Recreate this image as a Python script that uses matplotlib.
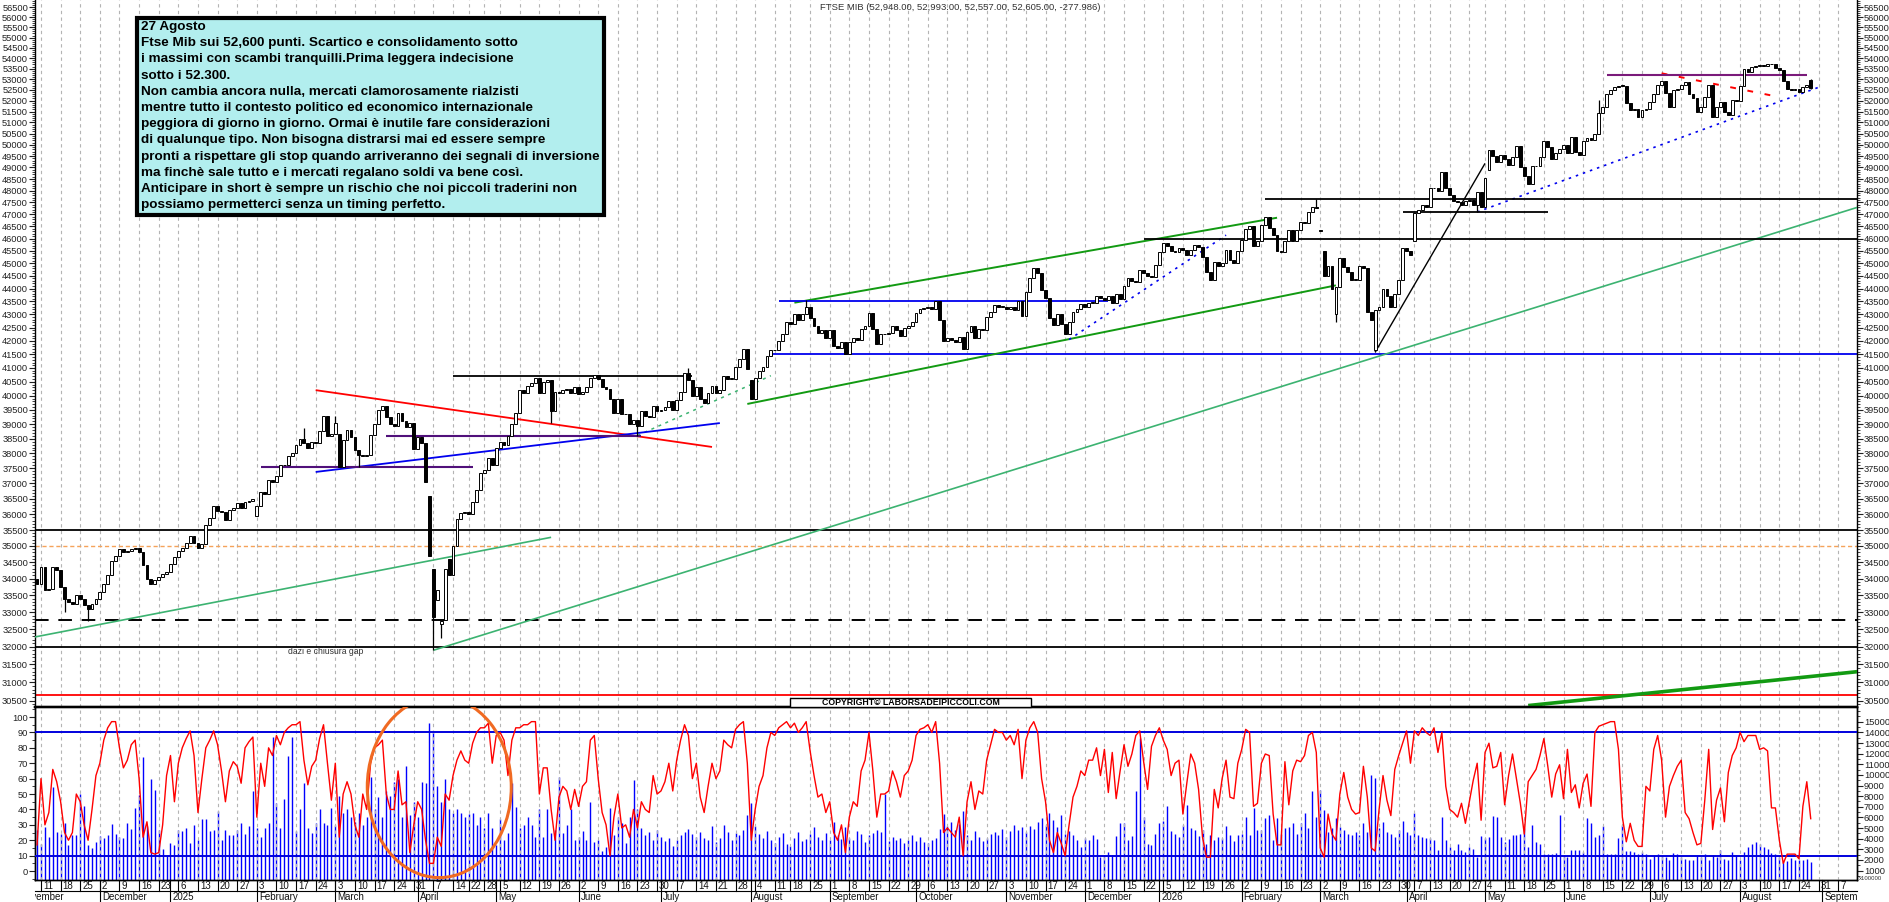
import numpy as np
import pandas as pd
import matplotlib
matplotlib.use("Agg")
import matplotlib.pyplot as plt
from matplotlib.patches import Rectangle, Ellipse
from matplotlib.lines import Line2D
from matplotlib.ticker import FixedLocator, NullFormatter, FuncFormatter
from matplotlib.transforms import Bbox

plt.rcParams['font.family'] = ['Liberation Sans', 'DejaVu Sans']

# ------------------------------------------------------------------ data
holidays = ["2024-12-24", "2024-12-25", "2024-12-26", "2024-12-31", "2025-01-01",
            "2025-04-18", "2025-04-21", "2025-05-01", "2025-08-15", "2025-12-24",
            "2025-12-25", "2025-12-26", "2025-12-31", "2026-01-01", "2026-04-03",
            "2026-04-06", "2026-05-01"]
first_day = "2024-11-08"

# daily closes, one line per week (Nov 8 2024 -> Aug 27 2026)
close_prices = [
    33850,
    34350, 33650, 33700, 34350, 34250,
    33750, 33400, 33300, 33250, 33500,
    33400, 33200, 33100, 33250, 33400,
    33600, 33850, 34100, 34550, 34700,
    34900, 34800, 34850, 34900, 34950,
    34800, 34400, 34000, 33850, 33950,
    34050, 34150,
    34200, 34450, 34650,
    34850, 34950, 35100, 35320, 35100,
    34940, 35050, 35650, 35880, 36260,
    36100, 36070, 35820, 36150, 36200,
    36350, 36200, 36400, 36440, 36490,
    36250, 36720, 36650, 37120, 37050,
    37250, 37620, 37600, 37900, 38000,
    38300, 38500, 38350, 38200, 38400,
    38350, 38750, 39280, 38600, 38650,
    39050, 37550, 38450, 38800, 38550,
    38100, 37950, 37900, 37950, 38630,
    39000, 39500, 39650, 39250, 39000,
    38950, 39400, 39100, 38900, 39050,
    38150, 38550, 38350, 37050, 34680,
    32850, 33650, 32750, 34300, 34100,
    35000, 35850, 36050, 36070,
    36000, 36400, 36800, 37350,
    37450, 37850, 37600, 38200,
    38400, 38300, 38600, 39000, 39400,
    40200, 40100, 40350, 40450, 40650,
    40100, 40500, 40550, 39450, 40150,
    40100, 40200, 40250, 40100, 40300,
    40050, 40150, 40300, 40650, 40750,
    40600, 40300, 40250, 39900, 39400,
    39900, 39350, 39350, 39000, 39150,
    38950, 39450, 39300, 39250, 39650,
    39450, 39500, 39600, 39800, 39500,
    39850, 40150, 40800, 40550, 40000,
    40300, 39900, 39750, 40100, 40350,
    40100, 40200, 40700, 40600, 40600,
    41050, 41330, 41700, 40950, 39900,
    40620, 40900, 41050, 41450, 41660,
    41650, 42000, 42250, 42700,
    42650, 43000, 42800, 43000, 43300,
    42850, 42550, 42300, 42400, 42100,
    42400, 41800, 41750, 41950, 41500,
    41950, 42100, 42050, 42450, 42550,
    43050, 42450, 41900, 42250, 42250,
    42300, 42550, 42400, 42200, 42500,
    42550, 42700, 43050, 43200, 43250,
    43300, 43200, 43500, 42800, 42000,
    42100, 42050, 41950, 42150, 41700,
    42350, 42550, 42100, 42450, 42400,
    42900, 43100, 43350, 43300, 43300,
    43200, 43300, 43150, 43500, 42950,
    43850, 44400, 44800, 44600, 43950,
    43650, 42850, 42600, 43000, 42650,
    42250, 42700, 43100, 43200, 43400,
    43300, 43450, 43450, 43700, 43650,
    43550, 43700, 43450, 43800, 43600,
    44100, 44400, 44300, 44250, 44750,
    44600, 44500,
    44450, 44950, 45450,
    45800, 45700, 45500, 45450, 45600,
    45550, 45350, 45550, 45750, 45650,
    45250, 44650, 44350, 45050, 44900,
    45000, 45550, 45150, 45000, 45500,
    45950, 46400, 46520, 45700, 45900,
    46550, 46900, 46450, 46150, 45500,
    45450, 45900, 46350, 45900, 46350,
    46700, 46650, 47100, 47300, 47250,
    46300, 44500, 44900, 44000, 44050,
    45200, 44850, 44650, 44350, 44350,
    44900, 44800, 43100, 42800, 43150,
    43300, 44000, 43700, 43300, 43800,
    44350, 45600, 45500, 45350,
    47050, 47200, 47400, 47300,
    48100, 48100, 48000, 48800, 48100,
    47800, 47550, 47500, 47400, 47550,
    47600, 47400, 47950, 47300,
    48550, 49750, 49500, 49250, 49550,
    49350, 49100, 49450, 49950, 49000,
    48650, 48300, 49050, 49050, 49450,
    50150, 49900, 49350, 49650, 49800,
    50000, 49650, 50350, 49700, 49550,
    50150, 50300, 50200, 50500, 51450,
    51700, 52300, 52500, 52650, 52700,
    52680, 51900, 51550, 51600, 51250,
    51550, 51600, 51950, 52300, 52750,
    52900, 52350, 51700, 52500, 52550,
    52750, 52850, 52300, 52100, 51500,
    51700, 52150, 52750, 51250, 51700,
    51950, 51500, 51350, 52050, 52000,
    52700, 53500, 53350, 53600, 53650,
    53650, 53620, 53700, 53700, 53550,
    53450, 52900, 52550, 52500, 52550,
    52400, 52650, 52750, 52605,
]

# opens that differ from the previous close (gaps)
open_gaps = {
    "2024-11-08": 34000, "2025-02-03": 35930, "2025-03-04": 38650, "2025-04-04": 36600,
    "2025-04-07": 34300, "2025-04-08": 33350, "2025-04-09": 32650, "2025-04-10": 32770,
    "2025-04-11": 34600, "2025-08-01": 40550, "2026-03-02": 46350, "2026-03-03": 45500,
    "2026-03-06": 43000, "2026-03-20": 41650, "2026-04-07": 45900, "2026-05-05": 48900,
    "2026-08-27": 52948,
}
wick_lows = {
    "2024-11-19": 33000, "2024-11-27": 32750, "2025-03-04": 37550, "2025-03-11": 37550,
    "2025-04-07": 31900, "2025-04-09": 32250, "2025-05-22": 39050, "2025-06-23": 38600,
    "2026-03-06": 42700, "2026-03-20": 41600, "2026-04-29": 47100, "2026-08-27": 52557,
}
wick_highs = {
    "2025-02-19": 38880, "2025-03-03": 39300, "2025-07-10": 41000, "2025-08-22": 43560,
    "2026-02-27": 47650, "2026-06-12": 52050, "2026-08-27": 52993,
}

# oscillator (left scale 0-100), one line per week
oscillator = [
    17,
    60, 30, 38, 66, 58,
    45, 25, 20, 25, 50,
    45, 30, 20, 40, 62,
    70, 85, 93, 97, 97,
    80, 67, 72, 82, 85,
    60, 22, 32, 12, 11,
    12, 30,
    62, 75, 45,
    70, 80, 86, 91, 75,
    38, 60, 80, 85, 91,
    82, 65, 45, 65, 71,
    68, 57, 80, 84, 87,
    35, 70, 55, 80, 75,
    88, 82, 90, 93, 95,
    95, 97, 72, 56, 68,
    72, 86, 95, 70, 46,
    70, 22, 50, 58, 50,
    30, 22, 50, 40, 70,
    80, 82, 85, 50, 40,
    40, 65, 43, 45, 12,
    30, 45, 40, 20, 5,
    5, 22, 16, 50, 46,
    62, 72, 78, 72,
    70, 83, 90, 93,
    93, 96, 70, 88,
    90, 85, 62, 85, 93,
    93, 95, 95, 97, 97,
    50, 67, 67, 40, 20,
    48, 55, 52, 40, 53,
    42, 55, 58, 85, 88,
    60, 38, 30, 10, 35,
    50, 28, 30, 22, 40,
    28, 45, 40, 38, 62,
    50, 52, 58, 70, 52,
    72, 85, 95, 88, 60,
    70, 48, 38, 55, 70,
    60, 65, 85, 82, 80,
    92, 95, 97, 70, 20,
    40, 55, 62, 80, 90,
    88, 93, 95, 97,
    93, 96, 90, 93, 97,
    78, 62, 48, 50, 38,
    45, 25, 20, 30, 12,
    35, 45, 42, 65, 72,
    90, 65, 35, 50, 50,
    52, 65, 58, 48, 62,
    65, 72, 88, 92, 93,
    95, 90, 97, 70, 25,
    28, 25, 22, 35, 10,
    45, 58, 40, 52, 50,
    72, 82, 92, 90, 90,
    85, 88, 82, 92, 60,
    85, 93, 97, 90, 60,
    45, 20, 12, 25, 18,
    10, 30, 48, 55, 65,
    62, 72, 72, 80, 62,
    79, 51, 77, 47, 65,
    82, 68, 76, 88, 91,
    71, 53,
    81, 88, 93,
    85, 79, 62, 70, 72,
    37, 57, 76, 70, 53,
    22, 9, 9, 53, 41,
    60, 72, 48, 47, 70,
    79, 92, 90, 42, 44,
    70, 76, 75, 37, 17,
    17, 71, 43, 65, 72,
    71, 75, 88, 90, 77,
    15, 9, 37, 24, 20,
    50, 64, 48, 40, 37,
    38, 68, 48, 15, 13,
    40, 62, 46, 36, 66,
    75, 83, 91, 70,
    91, 88, 93, 90,
    88, 93, 77, 90, 55,
    40, 38, 35, 44, 31,
    45, 59, 70, 33,
    77, 83, 67, 68, 77,
    43, 62, 76, 60, 44,
    24, 58, 62, 66, 75,
    86, 68, 48, 63, 69,
    47, 79, 51, 56, 41,
    57, 63, 42, 90, 94,
    95, 96, 97, 97, 79,
    35, 19, 31, 20, 16,
    16, 55, 52, 79, 88,
    72, 35, 55, 62, 68,
    72, 38, 34, 25, 17,
    18, 46, 79, 27, 46,
    54, 32, 64, 75, 80,
    90, 84, 88, 88, 88,
    79, 80, 78, 41, 41,
    20, 5, 11, 11, 11,
    8, 42, 58, 34,
]

# volume (right scale, x100000), one line per week
volume = [
    4800,
    3500, 5100, 4150, 8900, 4600,
    4450, 5450, 3400, 4350, 4300,
    8200, 7050, 3400, 3100, 3700,
    4230, 4100, 4300, 5390, 4430,
    4150, 4100, 5450, 4950, 6870,
    8130, 11700, 5150, 9650, 8600,
    4860, 3000,
    2400, 3550, 3400,
    4860, 4720, 5000, 3560, 5300,
    3850, 5880, 5880, 4720, 4860,
    6600, 3850, 4860, 4300, 4300,
    4860, 5450, 4430, 5150, 8490,
    5000, 4150, 5000, 5450, 13560,
    7330, 5000, 7750, 11800, 13560,
    4700, 6750, 9200, 5000, 4570,
    5450, 6750, 5450, 5300, 6900,
    5300, 8050, 6460, 6750, 6000,
    5600, 6460, 5300, 6000, 9800,
    6750, 7910, 6025, 8490, 8050,
    9360, 9650, 6000, 10800, 6200,
    7470, 6025, 9360, 9200, 14870,
    14000, 8930, 7470, 9650, 6750,
    6460, 6750, 6460, 6025,
    6300, 6460, 5300, 6025,
    5000, 6460, 5000, 3400,
    5870, 3850, 4500, 9200, 7000,
    5000, 5300, 6025, 5300, 4140,
    6750, 4140, 6750, 4500, 4800,
    9800, 4570, 5300, 6750, 3850,
    4140, 4700, 3850, 7470, 3700,
    3850, 2800, 3200, 6900, 4300,
    6025, 5450, 3600, 6025, 9500,
    6750, 5000, 4300, 4600, 3900,
    4800, 4200, 3800, 4100, 3300,
    3900, 4300, 4600, 4900, 4400,
    4200, 4600, 4100, 3900, 5200,
    3700, 4100, 5300, 4600, 3900,
    4500, 4300, 4800, 6200, 7400,
    5200, 4400, 4100, 4700, 3900,
    3600, 4200, 4500, 3500,
    3300, 4100, 4600, 3800, 4000,
    4400, 5100, 4200, 3900, 4500,
    3900, 5600, 4300, 4000, 5100,
    4100, 3900, 4700, 4400, 3700,
    4300, 4500, 4800, 4600, 8200,
    3800, 4200, 3900, 4100, 3600,
    3900, 4300, 3800, 4200, 3700,
    3600, 3900, 4100, 4900, 6300,
    5200, 5600, 4800, 5400, 6600,
    4300, 3900, 4700, 4200, 3800,
    4100, 4400, 4600, 4300, 4900,
    4200, 4700, 5300, 4800, 5100,
    4600, 5200, 4900, 5600, 5900,
    5300, 6400, 5800, 5100, 6200,
    4400, 4700, 4300, 3900, 3200,
    4100, 3900, 4300, 4000, 2270,
    2420, 2740, 2420, 4230, 5430,
    5430, 3910, 4260, 8440, 13510,
    6000, 3530,
    3440, 4480, 5500,
    5690, 7080, 4740, 4480, 4170,
    5280, 7180, 4960, 4800, 4230,
    4860, 3470, 4330, 3910, 4170,
    4100, 5180, 4330, 3760, 4330,
    4420, 6070, 4330, 6860, 4860,
    4800, 5910, 6230, 3910, 5910,
    4480, 4960, 5120, 5430, 4480,
    5430, 6380, 4960, 8440, 6070,
    8600, 6700, 4640, 4960, 5910,
    5120, 4800, 4480, 4330, 4640,
    4330, 5500, 4640, 10030, 9710,
    4960, 5590, 4640, 4480, 4170,
    4800, 5690, 4640, 4330,
    6380, 4330, 4170, 4100,
    4100, 3850, 2900, 6070, 3850,
    3220, 2900, 3470, 2900, 2740,
    3220, 3060, 2270, 4230,
    4100, 4170, 6130, 6070, 4170,
    3690, 4010, 4330, 4330, 4480,
    4960, 3220, 5280, 3690, 3530,
    2580, 2520, 2580, 2650, 6230,
    2420, 2270, 2960, 2900, 2900,
    2740, 5910, 5500, 4170, 4330,
    5180, 2520, 2520, 2520, 4100,
    5280, 2840, 2840, 2740, 2580,
    2740, 2520, 2110, 2420, 2580,
    2330, 2270, 2010, 2650, 2520,
    2270, 2110, 1950, 2010, 2330,
    2270, 2520, 2010, 2420, 2270,
    2960, 2110, 2010, 2740, 2420,
    2010, 2740, 3220, 3530, 3690,
    3470, 3220, 3060, 2650, 2520,
    2270, 1890, 1890, 2200, 1950,
    2010, 1950, 2110, 1790,
]

# price levels / trend lines drawn on the chart (date, price)
level_black_full = [35500, 32000]
level_dashed = 32770
level_orange = 35000
level_red = 30660
level_blue_full = (41500, "2025-08-08")
segments = {
    "green_a":   (("2024-11-07", 32270), ("2025-05-22", 35270)),
    "green_b":   (("2025-04-07", 31900), ("2026-09-14", 47300)),
    "green_up":  (("2025-08-19", 43450), ("2026-02-13", 46860)),
    "green_low": (("2025-07-31", 39710), ("2026-03-06", 44125)),
    "green_dot": (("2025-06-23", 38610), ("2025-08-08", 40720)),
    "green_thk": (("2026-05-19", 30370), ("2026-09-14", 31300)),
    "red_down":  (("2025-02-24", 40200), ("2025-07-18", 38220)),
    "red_dash":  (("2026-07-06", 53280), ("2026-08-13", 52240)),
    "blue_up":   (("2025-02-24", 37380), ("2025-07-22", 39040)),
    "blue_h":    (("2025-08-12", 43510), ("2025-12-09", 43510)),
    "blue_dot1": (("2025-11-25", 42050), ("2026-01-27", 46140)),
    "blue_dot2": (("2026-04-29", 47100), ("2026-08-31", 52620)),
    "purple1":   (("2025-02-04", 37550), ("2025-04-23", 37550)),
    "purple2":   (("2025-03-20", 38600), ("2025-06-24", 38600)),
    "purple3":   (("2026-06-16", 53200), ("2026-08-26", 53200)),
    "black1":    (("2025-04-14", 40720), ("2025-07-11", 40720)),
    "black2":    (("2026-02-10", 47650), ("2026-09-14", 47650)),
    "black3":    (("2025-12-22", 46000), ("2026-09-14", 46000)),
    "black4":    (("2026-03-31", 47100), ("2026-05-26", 47100)),
    "black_tl":  (("2026-03-20", 41580), ("2026-05-04", 49180)),
}
gap_note_at = ("2025-02-13", 31870)

title_text = "FTSE MIB (52,948.00, 52,993.00, 52,557.00, 52,605.00, -277.986)"
note_lines = [
    "27 Agosto",
    "Ftse Mib sui 52,600 punti. Scartico e consolidamento sotto",
    "i massimi con scambi tranquilli.Prima leggera indecisione",
    "sotto i 52.300.",
    "Non cambia ancora nulla, mercati clamorosamente rialzisti",
    "mentre tutto il contesto politico ed economico internazionale",
    "peggiora di giorno in giorno. Ormai è inutile fare considerazioni",
    "di qualunque tipo. Non bisogna distrarsi mai ed essere sempre",
    "pronti a rispettare gli stop quando arriveranno dei segnali di inversione",
    "ma finchè sale tutto e i mercati regalano soldi va bene così.",
    "Anticipare in short è sempre un rischio che noi piccoli traderini non",
    "possiamo permetterci senza un timing perfetto.",
]
gap_note = "dazi e chiusura gap"
copyright_text = "COPYRIGHT\u00a9 LABORSADEIPICCOLI.COM"
month_names = ["", "January", "February", "March", "April", "May", "June", "July",
               "August", "September", "October", "November", "December"]

# ------------------------------------------------------------------ layout
W, H = 1890, 902
fig = plt.figure(figsize=(W / 100, H / 100), dpi=100)
fig.patch.set_facecolor("white")

def fxp(px):
    return px / W

def fyp(py):
    return 1 - py / H

AX_L, AX_R = 35, 1857
MAIN_B, LOW_B = 707, 880
SLOT, X0 = 3.924, 41.0          # px per trading day, px of 2024-11-11

ax = fig.add_axes([fxp(AX_L), fyp(MAIN_B), (AX_R - AX_L) / W, MAIN_B / H])
ax2 = fig.add_axes([fxp(AX_L), fyp(LOW_B), (AX_R - AX_L) / W, (LOW_B - MAIN_B) / H])
ax2v = ax2.twinx()
ax2.set_zorder(ax2v.get_zorder() + 1)
ax2.patch.set_visible(False)

xlim = ((AX_L - X0) / SLOT, (AX_R - X0) / SLOT)

def ix2px(i):
    return X0 + SLOT * i

# trading calendar
hol = pd.to_datetime(holidays)
days_all = pd.bdate_range("2024-10-28", "2026-10-30")
days_all = days_all[~days_all.isin(hol)]
pos_ref = int(np.where(days_all == pd.Timestamp("2024-11-11"))[0][0])
tindex = {d: k - pos_ref for k, d in enumerate(days_all)}

def di(s):
    t = pd.Timestamp(s)
    if t in tindex:
        return tindex[t]
    k = days_all.searchsorted(t)
    return k - pos_ref

start_k = int(np.where(days_all == pd.Timestamp(first_day))[0][0])
n = min(len(close_prices), len(oscillator), len(volume))
dates = days_all[start_k:start_k + n]
idx = np.array([tindex[d] for d in dates], dtype=float)

c = np.array(close_prices[:n], dtype=float)
o = np.empty(n)
o[0] = c[0]
o[1:] = c[:-1]
for s, v in open_gaps.items():
    t = pd.Timestamp(s)
    if t in tindex:
        k = tindex[t] - tindex[dates[0]]
        if 0 <= k < n:
            o[k] = v

# ------------------------------------------------------------------ main panel
ax.set_yscale("log")
ax.set_ylim(30331, 56868)
ax.set_xlim(*xlim)

# weekly grid
week_starts = []
iso = days_all.isocalendar()
grp = pd.Series(days_all).groupby([iso.year.values, iso.week.values])
for _, g in grp:
    g = list(g)
    if g[0].year != g[-1].year:
        continue
    week_starts.append(g[0])
for d in week_starts:
    i = tindex[d]
    if xlim[0] < i < xlim[1]:
        for a in (ax, ax2):
            a.axvline(i, color="#b4b4b4", lw=0.8, ls=(0, (3, 3)), zorder=0)

# horizontal levels
for lv in level_black_full:
    ax.axhline(lv, color="black", lw=1.3, zorder=2)
ax.axhline(level_dashed, color="black", lw=1.4, ls=(0, (7, 5)), zorder=2)
ax.axhline(level_orange, color="#f5a35a", lw=1.0, ls=(0, (3, 2)), zorder=2)
ax.axhline(level_red, color="red", lw=1.3, zorder=2)
ax.plot([di(level_blue_full[1]), xlim[1] + 1], [level_blue_full[0]] * 2,
        color="#0000ee", lw=1.3, zorder=2)

styles = {
    "green_a": dict(color="#3cb371", lw=1.2),
    "green_b": dict(color="#3cb371", lw=1.2),
    "green_up": dict(color="#129a12", lw=1.4),
    "green_low": dict(color="#129a12", lw=1.4),
    "green_dot": dict(color="#3cb371", lw=1.1, ls=(0, (2, 3))),
    "green_thk": dict(color="#129a12", lw=2.6),
    "red_down": dict(color="red", lw=1.3),
    "red_dash": dict(color="red", lw=1.4, ls=(0, (3, 6))),
    "blue_up": dict(color="#0000ee", lw=1.3),
    "blue_h": dict(color="#0000ee", lw=1.3),
    "blue_dot1": dict(color="#0000ee", lw=1.2, ls=(0, (1.5, 3))),
    "blue_dot2": dict(color="#0000ee", lw=1.2, ls=(0, (1.5, 3))),
    "purple1": dict(color="#50107a", lw=1.5),
    "purple2": dict(color="#50107a", lw=1.5),
    "purple3": dict(color="#7a1a7a", lw=1.5),
    "black1": dict(color="black", lw=1.3),
    "black2": dict(color="black", lw=1.3),
    "black3": dict(color="black", lw=1.3),
    "black4": dict(color="black", lw=1.3),
    "black_tl": dict(color="black", lw=1.0),
}
for name, ((d1, p1), (d2, p2)) in segments.items():
    ax.plot([di(d1), di(d2)], [p1, p2], zorder=4, solid_capstyle="butt",
            **styles[name])

# candles
top = np.maximum(o, c)
bot = np.minimum(o, c)
h = np.maximum(top - bot, bot * 0.0006)
up = c >= o
for s, v in wick_lows.items():
    k = tindex[pd.Timestamp(s)] - tindex[dates[0]]
    ax.vlines(idx[k], v, bot[k], color="black", lw=0.9, zorder=5)
for s, v in wick_highs.items():
    k = tindex[pd.Timestamp(s)] - tindex[dates[0]]
    ax.vlines(idx[k], top[k], v, color="black", lw=0.9, zorder=5)
ax.bar(idx[up], h[up], bottom=bot[up], width=0.72, facecolor="white",
       edgecolor="black", linewidth=0.7, zorder=6)
ax.bar(idx[~up], h[~up], bottom=bot[~up], width=0.72, facecolor="black",
       edgecolor="black", linewidth=0.7, zorder=6)

# axes styling
levels = np.arange(30500, 56501, 500)
ax.yaxis.set_major_locator(FixedLocator(levels))
ax.yaxis.set_major_formatter(FuncFormatter(lambda v, p: f"{v:.0f}"))
ax.yaxis.set_minor_locator(FixedLocator(np.arange(30400, 56801, 100)))
ax.yaxis.set_minor_formatter(NullFormatter())
ax.tick_params(axis="y", which="both", left=True, right=True, labelleft=True,
               labelright=True, direction="out", labelsize=6.7, pad=1.0,
               colors="#222222")
ax.tick_params(axis="y", which="major", length=4, width=0.8)
ax.tick_params(axis="y", which="minor", length=2, width=0.6)
ax.set_xticks([])
ax.spines["top"].set_visible(False)
for s in ("left", "right"):
    ax.spines[s].set_linewidth(1.0)
ax.spines["bottom"].set_linewidth(1.6)

ax.text(di(gap_note_at[0]), gap_note_at[1], gap_note, fontsize=6.2, color="#333333",
        ha="left", va="center", zorder=7)

# ------------------------------------------------------------------ lower panel
ax2.set_xlim(*xlim)
ax2.set_ylim(-5.8, 106.5)
ax2v.set_ylim(109, 16392)
ax2v.vlines(idx, 0, np.array(volume[:n], dtype=float), color="#0000ff", lw=1.0, zorder=2)
ax2.plot(idx, oscillator[:n], color="red", lw=1.0, zorder=4)
ax2.axhline(90, color="#0000dd", lw=1.4, zorder=3)
ax2.axhline(10, color="#0000dd", lw=1.4, zorder=3)
circle = Ellipse((di("2025-04-08") + 0.5, 54.5), width=36.7, height=117.5, fill=False,
                 edgecolor="#f06a22", lw=2.2, zorder=5)
ax2.add_patch(circle)

ax2.yaxis.set_major_locator(FixedLocator(np.arange(0, 101, 10)))
ax2.yaxis.set_minor_locator(FixedLocator(np.arange(-5, 106, 5)))
ax2.yaxis.set_minor_formatter(NullFormatter())
ax2.tick_params(axis="y", which="both", direction="out", labelsize=6.7, pad=1.0,
                colors="#222222", right=False)
ax2.tick_params(axis="y", which="major", length=4, width=0.8)
ax2.tick_params(axis="y", which="minor", length=2, width=0.6)
ax2v.yaxis.set_major_locator(FixedLocator(np.arange(1000, 15001, 1000)))
ax2v.yaxis.set_major_formatter(FuncFormatter(lambda v, p: f"{v:.0f}"))
ax2v.yaxis.set_minor_locator(FixedLocator(np.arange(500, 16001, 500)))
ax2v.yaxis.set_minor_formatter(NullFormatter())
ax2v.tick_params(axis="y", which="both", direction="out", labelsize=6.7, pad=1.0,
                 colors="#222222")
ax2v.tick_params(axis="y", which="major", length=4, width=0.8)
ax2v.tick_params(axis="y", which="minor", length=2, width=0.6)
for a in (ax2, ax2v):
    a.set_xticks([])
    for s in a.spines.values():
        s.set_linewidth(1.0)
    a.spines["top"].set_linewidth(1.6)

fig.text(fxp(1859), fyp(879), "x100000", fontsize=4.3, color="#333333",
         ha="left", va="center")

# ------------------------------------------------------------------ date axis
clipbox = Bbox([[AX_L, 0], [AX_R, H]])
fig.add_artist(Line2D([fxp(AX_L), fxp(AX_R)], [fyp(891), fyp(891)], color="black",
                      lw=0.8, transform=fig.transFigure))
for d in week_starts:
    xp = ix2px(tindex[d])
    if AX_L - 4 < xp < AX_R - 6:
        if xp >= AX_L:
            fig.add_artist(Line2D([fxp(xp)] * 2, [fyp(880), fyp(891)], color="black",
                                  lw=0.8, transform=fig.transFigure))
        t = fig.text(fxp(xp + 2), fyp(886), str(d.day), fontsize=7, ha="left",
                     va="center", color="#111111")
        t.set_clip_box(clipbox)
        t.set_clip_on(True)
months = pd.Series(days_all).groupby([days_all.year, days_all.month]).first()
for d in months:
    xp = ix2px(tindex[d])
    if AX_L - 30 < xp < AX_R - 6:
        if xp >= AX_L:
            fig.add_artist(Line2D([fxp(xp)] * 2, [fyp(880), fyp(902)], color="black",
                                  lw=0.8, transform=fig.transFigure))
        lab = str(d.year) if d.month == 1 else month_names[d.month]
        t = fig.text(fxp(xp + 2), fyp(897), lab, fontsize=7, ha="left",
                     va="center", color="#111111")
        t.set_clip_box(clipbox)
        t.set_clip_on(True)

# ------------------------------------------------------------------ texts
fig.text(fxp(820), fyp(7), title_text, fontsize=6.8, color="#333333",
         ha="left", va="center")

cx0, cx1 = 790, 1031
fig.add_artist(Rectangle((fxp(cx0), fyp(MAIN_B)), (cx1 - cx0) / W, 9 / H,
                         transform=fig.transFigure, facecolor="white",
                         edgecolor="black", lw=1.0, zorder=2))
fig.text(fxp((cx0 + cx1) / 2), fyp(702.5), copyright_text, fontsize=6.3,
         fontweight="bold", ha="center", va="center", zorder=3)

bx0, by0, bx1, by1 = 137, 18, 604, 215
fig.add_artist(Rectangle((fxp(bx0), fyp(by1)), (bx1 - bx0) / W, (by1 - by0) / H,
                         transform=fig.transFigure, facecolor="#b2eeee",
                         edgecolor="black", lw=3.0, zorder=2))
renderer = fig.canvas.get_renderer()
probe = fig.text(0, 0, max(note_lines, key=len), fontsize=10, fontweight="bold")
wpx = probe.get_window_extent(renderer=renderer).width
probe.remove()
fs = 10 * 458 / wpx
for k, line in enumerate(note_lines):
    fig.text(fxp(141), fyp(27 + k * 16.2), line, fontsize=fs, fontweight="bold",
             ha="left", va="center", color="black", zorder=3)

fig.savefig("out.png", dpi=100, facecolor="white")
